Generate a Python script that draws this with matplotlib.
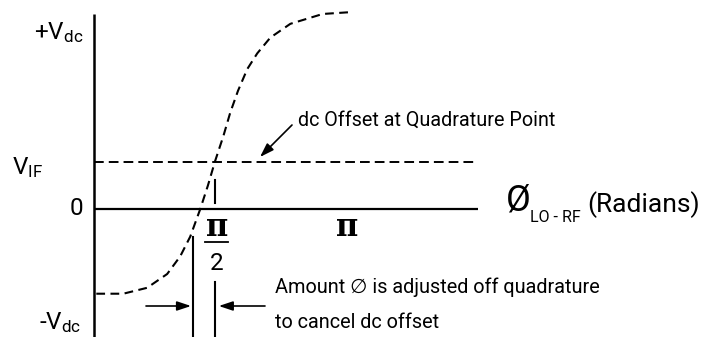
import numpy as np
import matplotlib
matplotlib.use("Agg")
import matplotlib.pyplot as plt

plt.rcParams['font.family'] = ['Roboto', 'DejaVu Sans']
plt.rcParams['mathtext.fontset'] = 'custom'
plt.rcParams['mathtext.rm'] = 'Roboto'

# IF output vs LO-RF phase (radians), normalised to +Vdc = 1
phase = [0.03, 0.38, 0.69, 0.95, 1.12, 1.25, 1.38, 1.48, 1.57, 1.68, 1.77,
         1.87, 1.99, 2.12, 2.29, 2.55, 2.97, 3.36]
v_if = [-0.43, -0.43, -0.40, -0.33, -0.24, -0.14, 0.00, 0.12, 0.24, 0.37,
        0.49, 0.60, 0.71, 0.79, 0.87, 0.94, 0.99, 1.00]

dc_offset = 0.24          # V_IF at the quadrature point
phase_quad = np.pi / 2    # quadrature point
phase_adj = 1.29          # phase after adjusting off quadrature
phase_end = 4.99          # end of the phase axis
v_top = 0.99


# pixel layout helper (713 x 337 canvas)
def P(x, y):
    return (x - 94) / 77.0, (209 - y) / 197.0


fig = plt.figure(figsize=(7.13, 3.37), dpi=100)
ax = fig.add_axes([0, 0, 1, 1])
x0, y0 = P(0, 337)
x1, y1 = P(713, 0)
ax.set_xlim(x0, x1)
ax.set_ylim(y0, y1)
ax.axis('off')

# axes
ax.plot([0, 0], [y0, v_top], color='k', lw=1.8, solid_capstyle='butt')
ax.plot([0, phase_end], [0, 0], color='k', lw=1.6, solid_capstyle='butt')

# dc offset line and curve
ax.plot([0, phase_end], [dc_offset, dc_offset], color='k', lw=1.4,
        linestyle=(0, (5, 2.6)))
ax.plot(phase, v_if, color='k', lw=1.5, linestyle=(0, (4.2, 2.6)))

# quadrature tick
ax.plot([phase_quad, phase_quad], [P(0, 180)[1], P(0, 203)[1]], color='k', lw=1.5)

# adjustment marker lines
ax.plot([phase_adj, phase_adj], [y0, P(0, 237)[1]], color='k', lw=1.5)
ax.plot([phase_quad, phase_quad], [y0, P(0, 282)[1]], color='k', lw=1.5)

arrow = dict(arrowstyle='-|>,head_length=0.6,head_width=0.2', color='k',
             lw=1.2, mutation_scale=14, shrinkA=0, shrinkB=0)
ya = P(0, 306)[1]
ax.annotate('', xy=(phase_adj - 0.03, ya), xytext=(P(146, 0)[0], ya), arrowprops=arrow)
ax.annotate('', xy=(phase_quad + 0.05, ya), xytext=(P(265, 0)[0], ya), arrowprops=arrow)
ax.annotate('', xy=P(260, 157), xytext=P(292, 125), arrowprops=arrow)

# y labels
big = 17.5
ax.text(*P(83, 33), r'+$\mathregular{V_{dc}}$', fontsize=big, ha='right', va='center')
ax.text(*P(43, 168), r'$\mathregular{V_{IF}}$', fontsize=big, ha='right', va='center')
ax.text(*P(83, 208), '0', fontsize=big, ha='right', va='center')
ax.text(*P(81, 323), r'-$\mathregular{V_{dc}}$', fontsize=big, ha='right', va='center')

# x labels
ax.text(*P(217, 227), 'π', fontsize=22, fontweight='bold', family='DejaVu Serif',
        ha='center', va='center')
ax.plot([P(205, 0)[0], P(228, 0)[0]], [P(0, 242)[1]] * 2, color='k', lw=1.3)
ax.text(*P(217, 263), '2', fontsize=big, ha='center', va='center')
ax.text(*P(347, 227), 'π', fontsize=22, fontweight='bold', family='DejaVu Serif',
        ha='center', va='center')

ax.text(*P(506, 200), 'Ø', fontsize=26, ha='left', va='center')
ax.text(*P(530, 217), 'LO - RF', fontsize=11.5, ha='left', va='center')
ax.text(*P(587, 205), '(Radians)', fontsize=19, ha='left', va='center')

# notes
ax.text(*P(298, 120), 'dc Offset at Quadrature Point', fontsize=14.2,
        ha='left', va='center')
ax.text(*P(275, 287), 'Amount ∅ is adjusted off quadrature', fontsize=14.3,
        ha='left', va='center')
ax.text(*P(275, 323), 'to cancel dc offset', fontsize=14.3, ha='left', va='center')

fig.savefig('out.png', dpi=100)
